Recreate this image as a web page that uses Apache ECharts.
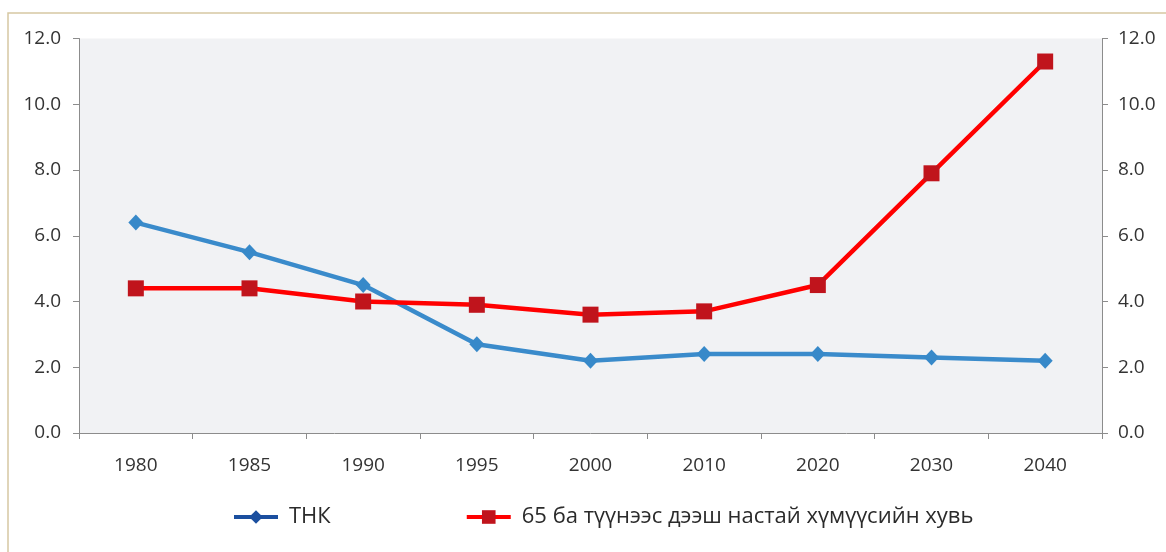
<!DOCTYPE html>
<html>
<head>
<meta charset="utf-8">
<script src="https://cdn.jsdelivr.net/npm/echarts@6/dist/echarts.min.js"></script>
<style>
  html, body { margin: 0; padding: 0; background: #ffffff; }
  #chart { width: 1166px; height: 552px; }
</style>
</head>
<body>
<div id="chart"></div>
<script>
// Years on the horizontal axis
const years = ['1980', '1985', '1990', '1995', '2000', '2010', '2020', '2030', '2040'];
// Total fertility rate
const tfr = [6.4, 5.5, 4.5, 2.7, 2.2, 2.4, 2.4, 2.3, 2.2];
// Share of population aged 65 and over, %
const aged65 = [4.4, 4.4, 4.0, 3.9, 3.6, 3.7, 4.5, 7.9, 11.3];
// Series names
const nameTfr = 'ТНК';
const nameAged = '65 ба түүнээс дээш настай хүмүүсийн хувь';

const font = 'Open Sans';
const axisGray = '#8c8c8c';
const textColor = '#333333';

const valueAxis = (position, margin) => ({
  type: 'value',
  position: position,
  min: 0,
  max: 12,
  interval: 2,
  axisLine: { show: true, lineStyle: { color: axisGray, width: 1 } },
  axisTick: { show: true, length: 6, lineStyle: { color: axisGray } },
  splitLine: { show: false },
  axisLabel: {
    margin: margin,
    fontFamily: font,
    fontSize: 19,
    color: textColor,
    formatter: v => v.toFixed(1)
  }
});

const chart = echarts.init(document.getElementById('chart'));
chart.setOption({
  animation: false,
  backgroundColor: '#ffffff',
  graphic: [{
    type: 'rect',
    shape: { x: 8, y: 13, width: 1200, height: 600 },
    style: { fill: 'none', stroke: '#d6c8a2', lineWidth: 1.5 },
    silent: true
  }],
  grid: {
    left: 79,
    right: 64,
    top: 38.5,
    bottom: 119,
    show: true,
    backgroundColor: '#f1f2f4',
    borderWidth: 0
  },
  legend: {
    top: 501,
    left: 227,
    itemWidth: 44,
    itemHeight: 17,
    itemGap: 134,
    textStyle: { fontFamily: font, fontSize: 22, color: '#2b2b2b', padding: [0, 0, 0, 6] },
    data: [
      { name: nameTfr, itemStyle: { color: '#1b4f9f' }, lineStyle: { color: '#1b4f9f', width: 4 } },
      { name: nameAged, itemStyle: { color: '#c0141c' }, lineStyle: { color: '#ff0000', width: 4 } }
    ]
  },
  xAxis: {
    type: 'category',
    data: years,
    boundaryGap: true,
    axisLine: { show: true, lineStyle: { color: axisGray, width: 1 } },
    axisTick: { show: true, length: 6, alignWithLabel: false, lineStyle: { color: axisGray } },
    axisLabel: { margin: 23, fontFamily: font, fontSize: 19, color: textColor }
  },
  yAxis: [valueAxis('left', 18), valueAxis('right', 16)],
  series: [
    {
      name: nameTfr,
      type: 'line',
      yAxisIndex: 0,
      data: tfr,
      symbol: 'diamond',
      symbolSize: [15, 16],
      lineStyle: { color: '#3a8bcb', width: 4.5 },
      itemStyle: { color: '#3789c9' }
    },
    {
      name: nameAged,
      type: 'line',
      yAxisIndex: 1,
      data: aged65,
      symbol: 'rect',
      symbolSize: 16,
      lineStyle: { color: '#ff0000', width: 4.5 },
      itemStyle: { color: '#c0141c' }
    }
  ]
});
</script>
</body>
</html>
